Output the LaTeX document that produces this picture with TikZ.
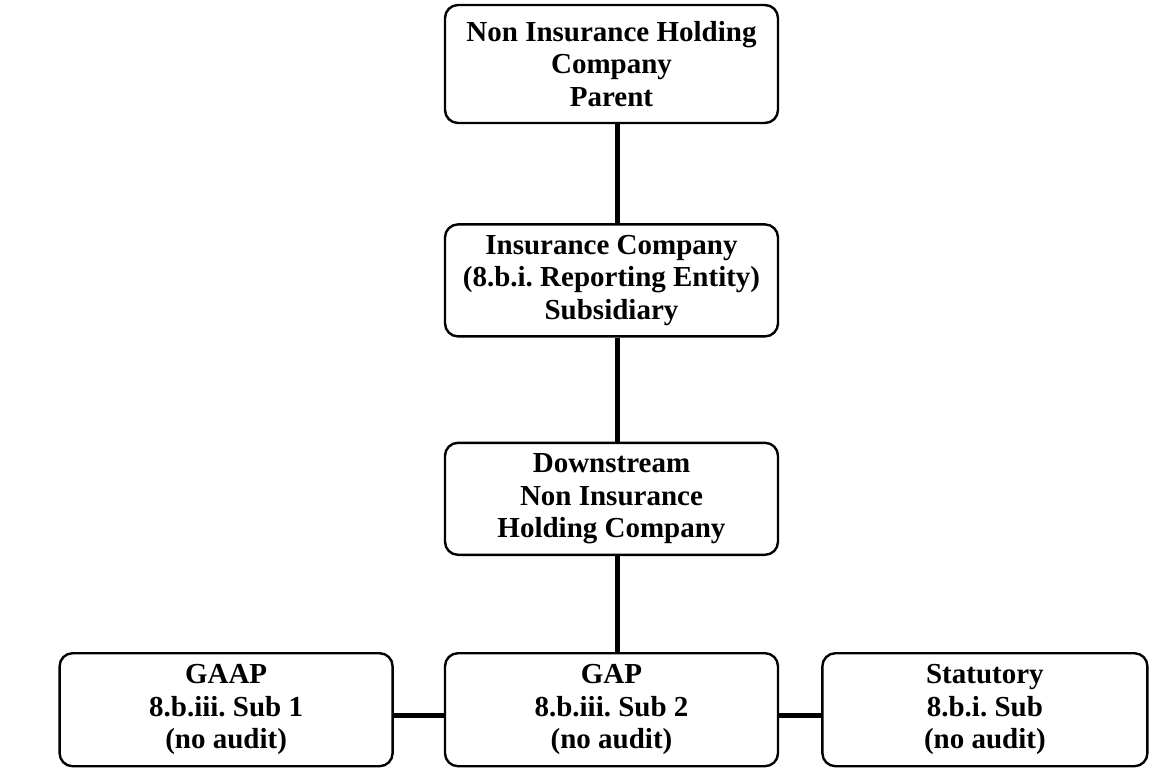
\documentclass[tikz,border=0pt]{standalone}
\usepackage{fontspec}
\setmainfont{Liberation Serif}
\usetikzlibrary{positioning}

\begin{document}
\frenchspacing
\begin{tikzpicture}[
  x=1pt,y=1pt,
  every node/.style={font=\bfseries\fontsize{29}{32.5}\selectfont},
  entity/.style={draw,line width=2.4pt,rounded corners=13pt,align=center,
    minimum width=333pt,minimum height=112pt,inner sep=2pt},
  link/.style={draw,line width=5pt},
  ]

  \useasboundingbox (0,0) rectangle (1152,-771);

  \node [entity,minimum height=118pt] (parent-node) at (611.5,-64)
    {Non Insurance Holding\\Company\\Parent};
  \node [entity,below=99pt of parent-node] (insurer-node)
    {Insurance Company\\(8.b.i. Reporting Entity)\\Subsidiary};
  \node [entity,below=104pt of insurer-node] (downstream-node)
    {Downstream\\Non Insurance\\Holding Company};
  \node [entity,below=96pt of downstream-node,minimum height=113pt] (sub2-node)
    {GAP\\8.b.iii. Sub 2\\(no audit)};
  \node [entity,left=50pt of sub2-node,minimum height=113pt] (sub1-node)
    {GAAP\\8.b.iii. Sub 1\\(no audit)};
  \node [entity,right=42pt of sub2-node,minimum width=325pt,minimum height=113pt] (stat-node)
    {Statutory\\8.b.i. Sub\\(no audit)};

  \draw [link] ([xshift=6pt]parent-node.south) -- ([xshift=6pt]insurer-node.north);
  \draw [link] ([xshift=6pt]insurer-node.south) -- ([xshift=6pt]downstream-node.north);
  \draw [link] ([xshift=6pt]downstream-node.south) -- ([xshift=6pt]sub2-node.north);
  \draw [link] ([yshift=-6pt]sub1-node.east) -- ([yshift=-6pt]sub2-node.west);
  \draw [link] ([yshift=-6pt]sub2-node.east) -- ([yshift=-6pt]stat-node.west);

\end{tikzpicture}
\end{document}
